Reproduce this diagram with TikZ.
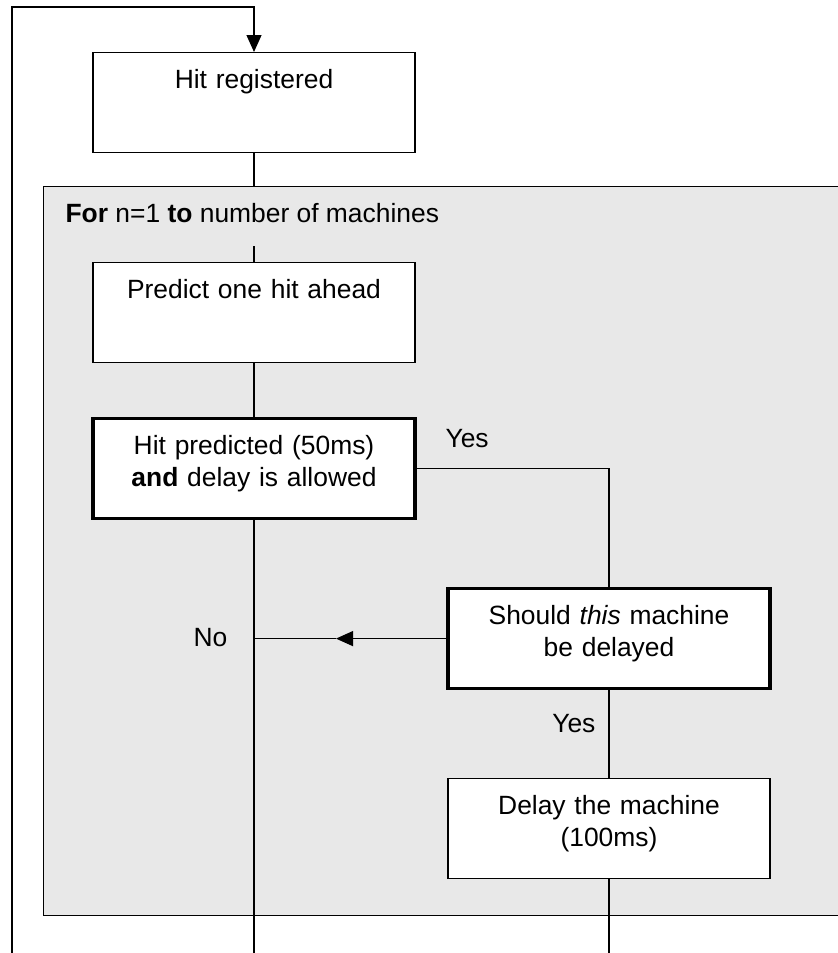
\documentclass[tikz,border=0pt]{standalone}
\usepackage{fontspec}
\setmainfont{Liberation Sans}
\usetikzlibrary{arrows.meta}
\definecolor{loopgray}{RGB}{232,232,232}
\begin{document}
\begin{tikzpicture}[
  x=0.5pt, y=-0.5pt, line width=0.6pt,
  font=\fontsize{13.2}{16}\selectfont,
  box/.style={draw, fill=white, rectangle, align=center, text width=161pt, inner xsep=0pt, inner ysep=0pt, text height=18pt, text depth=32pt, anchor=north},
  testbox/.style={box, line width=1.6pt},
  loopbox/.style={draw, fill=loopgray, rectangle, minimum width=403.5pt, minimum height=364.5pt, anchor=north west, inner sep=0pt},
  lbl/.style={inner sep=0pt},
  tip/.style={-{Triangle[length=8.5pt,width=7.5pt]}}
]
\useasboundingbox (0,0) rectangle (837,953);
\node[loopbox] (loop) at (43,186) {};
\node[lbl, anchor=base west] (forlbl) at (65,222) {\textbf{For} n=1 \textbf{to} number of machines};
\node[box] (hit) at (254,52) {Hit registered};
\node[box] (predict) at (254,262) {Predict one hit ahead};
\node[testbox] (allowed) at (254,417) {Hit predicted (50ms)\\ \textbf{and} delay is allowed};
\node[testbox] (should) at (609,587) {Should \textit{this} machine\\ be delayed};
\node[box] (delay) at (609,778) {Delay the machine\\ (100ms)};
\node[lbl, anchor=base west] (yes1) at (445,447) {Yes};
\node[lbl, anchor=base east] (yes2) at (596,732) {Yes};
\node[lbl, anchor=base east] (no) at (228,646) {No};
\coordinate (back) at (12,953);
\coordinate (entry) at (254,7);
\coordinate (loopin) at (254,246);
\coordinate (noarr) at (336,0 |- should.west);
\coordinate (outL) at (254,953);
\coordinate (outR) at (609,953);
\draw[tip] (back) |- (entry) -- (hit);
\draw (hit) -- (hit |- loop.north);
\draw (loopin) -- (predict);
\draw (predict) -- (allowed);
\draw (allowed) -- (outL);
\draw (allowed.east) -| (should);
\draw[tip] (should.west) -- (noarr);
\draw (noarr) -- (should.west -| allowed);
\draw (should) -- (delay);
\draw (delay) -- (outR);
\end{tikzpicture}
\end{document}
